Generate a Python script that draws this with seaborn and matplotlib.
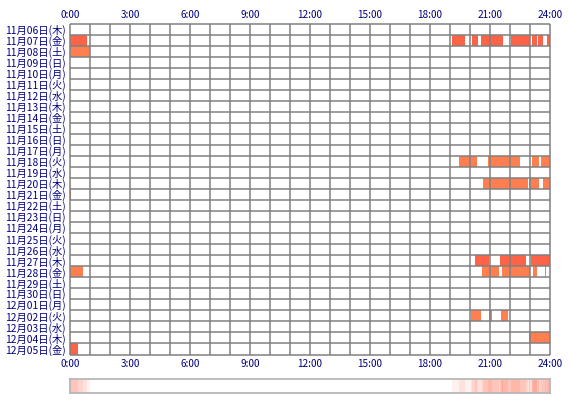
import numpy as np
import pandas as pd
import matplotlib
matplotlib.use("Agg")
import matplotlib.pyplot as plt
import seaborn as sns
from matplotlib.colors import ListedColormap, LinearSegmentedColormap

# ---------------- data ----------------
day_labels = [
    "11月06日(木)", "11月07日(金)", "11月08日(土)", "11月09日(日)", "11月10日(月)",
    "11月11日(火)", "11月12日(水)", "11月13日(木)", "11月14日(金)", "11月15日(土)",
    "11月16日(日)", "11月17日(月)", "11月18日(火)", "11月19日(水)", "11月20日(木)",
    "11月21日(金)", "11月22日(土)", "11月23日(日)", "11月24日(月)", "11月25日(火)",
    "11月26日(水)", "11月27日(木)", "11月28日(金)", "11月29日(土)", "11月30日(日)",
    "12月01日(月)", "12月02日(火)", "12月03日(水)", "12月04日(木)", "12月05日(金)",
]

seg_day = [
    "11月07日(金)", "11月07日(金)", "11月07日(金)", "11月07日(金)", "11月07日(金)",
    "11月07日(金)", "11月07日(金)", "11月07日(金)",
    "11月08日(土)",
    "11月18日(火)", "11月18日(火)", "11月18日(火)", "11月18日(火)",
    "11月20日(木)", "11月20日(木)", "11月20日(木)",
    "11月21日(金)",
    "11月27日(木)", "11月27日(木)", "11月27日(木)",
    "11月28日(金)", "11月28日(金)", "11月28日(金)", "11月28日(金)", "11月28日(金)",
    "12月02日(火)", "12月02日(火)", "12月02日(火)",
    "12月04日(木)",
    "12月05日(金)",
]
seg_start = [
    0.00, 19.10, 20.08, 20.53, 22.05, 23.08, 23.42, 23.83,
    0.00,
    19.47, 20.88, 23.08, 23.53,
    20.67, 22.97, 23.67,
    0.00,
    20.25, 21.50, 23.05,
    0.00, 20.60, 21.58, 23.13, 23.73,
    20.05, 20.95, 21.55,
    22.95,
    0.00,
]
seg_end = [
    0.85, 19.75, 20.38, 21.67, 23.00, 23.33, 23.63, 24.00,
    1.00,
    20.33, 22.50, 23.47, 24.00,
    22.92, 23.45, 24.00,
    0.06,
    20.95, 22.80, 24.00,
    0.63, 21.47, 23.00, 23.33, 23.78,
    20.53, 21.08, 21.88,
    24.00,
    0.38,
]

tick_hours = [0, 3, 6, 9, 12, 15, 18, 21, 24]
tick_labels = ["0:00", "3:00", "6:00", "9:00", "12:00", "15:00", "18:00", "21:00", "24:00"]

# ---------------- styles ----------------
TOMATO, CORAL = 1, 2
day_shade = {
    "11月07日(金)": TOMATO, "11月08日(土)": CORAL, "11月18日(火)": CORAL,
    "11月20日(木)": CORAL, "11月21日(金)": TOMATO, "11月27日(木)": TOMATO,
    "11月28日(金)": CORAL, "12月02日(火)": CORAL, "12月04日(木)": CORAL,
    "12月05日(金)": TOMATO,
}
NAVY = "#000080"
GRID = "#808080"

sns.set_style("white")
plt.rcParams["font.family"] = ["Noto Sans CJK JP", "DejaVu Sans"]

MIN = 60
n = len(day_labels)
grid = np.zeros((n, 24 * MIN))
for d, s, e in zip(seg_day, seg_start, seg_end):
    r = day_labels.index(d)
    grid[r, int(round(s * MIN)):int(round(e * MIN))] = day_shade[d]
df = pd.DataFrame(grid, index=day_labels)

W, H = 570, 400
fig = plt.figure(figsize=(W / 100, H / 100), dpi=100)
ax = fig.add_axes([70 / W, (H - 354.5) / H, 480 / W, 330.3 / H])

cmap = ListedColormap(["white", "#FF6347", "#FF7F50"])
sns.heatmap(df, ax=ax, cmap=cmap, vmin=-0.5, vmax=2.5, cbar=False,
            xticklabels=False, yticklabels=False)

ax.hlines(np.arange(n + 1), 0, 24 * MIN, colors=GRID, lw=1.1, clip_on=False, zorder=5)
ax.vlines(np.arange(25) * MIN, 0, n, colors=GRID, lw=1.1, clip_on=False, zorder=5)

ax.set_yticks(np.arange(n) + 0.5)
ax.set_yticklabels(day_labels, rotation=0, fontsize=7.4, color=NAVY)
ax.set_xticks([h * MIN for h in tick_hours])
ax.set_xticklabels(tick_labels, fontsize=7.2, color=NAVY)
ax.tick_params(axis="x", top=True, labeltop=True, bottom=True, labelbottom=True,
               length=0, pad=3.0, labelcolor=NAVY)
ax.tick_params(axis="y", length=0, pad=3, labelcolor=NAVY)
for lab in ax.get_xticklabels():
    lab.set_rotation(0)

# bottom summary strip
counts = (grid > 0).sum(axis=0)[None, :]
ax2 = fig.add_axes([70 / W, (H - 392.6) / H, 480 / W, 13.6 / H])
strip_cmap = LinearSegmentedColormap.from_list("strip", ["#FFFFFF", "#FF8C78"])
sns.heatmap(counts, ax=ax2, cmap=strip_cmap, vmin=0, vmax=8, cbar=False,
            xticklabels=False, yticklabels=False)
for sp in ax2.spines.values():
    sp.set_visible(True)
    sp.set_color("#B8B8B8")
    sp.set_linewidth(1.3)

fig.savefig("out.png", dpi=100)
